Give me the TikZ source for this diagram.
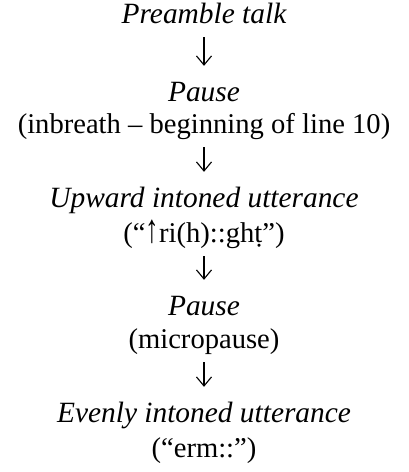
\documentclass[tikz,border=0pt]{standalone}
\usepackage{fontspec}
\usepackage{graphicx}
\setmainfont{Liberation Serif}
\usetikzlibrary{arrows.meta}
\newcommand{\uparr}{\scalebox{0.95}[1.4]{↑}}
\begin{document}
\begin{tikzpicture}[x=1pt,y=-1pt,
  lbl/.style={anchor=base,inner sep=0pt,font=\fontsize{28.6}{34}\selectfont,text height=20pt,text depth=7pt},
  ttl/.style={lbl,font=\fontsize{29.4}{34}\selectfont\itshape},
  flow/.style={line width=1.1pt,-{Straight Barb[length=9pt,width=15pt,line width=1.1pt]},shorten <=7pt,shorten >=15pt}]
\useasboundingbox (0,0) rectangle (408,472);
\node[ttl] (t1) at (204,23) {Preamble talk};
\node[ttl] (t2) at (204,101) {Pause};
\node[lbl] (d2) at (204,133) {(inbreath – beginning of line 10)};
\node[ttl] (t3) at (204,207) {Upward intoned utterance};
\node[lbl] (d3) at (204,242) {(“\uparr ri(h)::ghṭ”)};
\node[ttl] (t4) at (204,315) {Pause};
\node[lbl] (d4) at (204,348) {(micropause)};
\node[ttl] (t5) at (204,422) {Evenly intoned utterance};
\node[lbl] (d5) at (204,457) {(“erm::”)};
\draw[flow] (t1.south) -- (t2.north);
\draw[flow] (d2.south) -- (t3.north);
\draw[flow] (d3.south) -- (t4.north);
\draw[flow] (d4.south) -- (t5.north);
\end{tikzpicture}
\end{document}
